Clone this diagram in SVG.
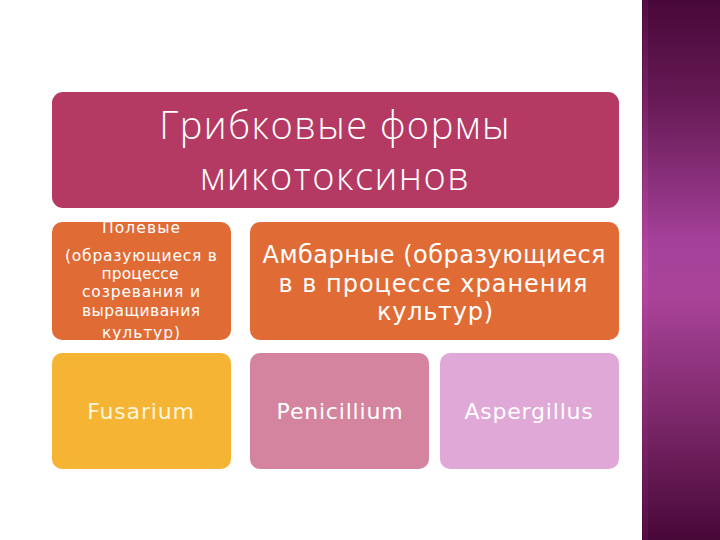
<svg xmlns="http://www.w3.org/2000/svg" width="720" height="540" viewBox="0 0 720 540">
<defs>
<linearGradient id="strip" x1="0" y1="0" x2="0" y2="1">
<stop offset="0" stop-color="#470838"/>
<stop offset="0.2" stop-color="#6a1c58"/>
<stop offset="0.45" stop-color="#a5419a"/>
<stop offset="0.55" stop-color="#a94399"/>
<stop offset="0.8" stop-color="#762463"/>
<stop offset="1" stop-color="#470838"/>
</linearGradient>
<linearGradient id="edge" x1="0" y1="0" x2="0" y2="1">
<stop offset="0" stop-color="#5a1048"/>
<stop offset="0.5" stop-color="#c04aa8"/>
<stop offset="1" stop-color="#5a1048"/>
</linearGradient>
<style>
.box{stroke:none}
.t{fill:#ffffff;text-anchor:middle}
.title{font-family:"Open Sans","Liberation Sans",sans-serif;font-size:38px;font-weight:300;letter-spacing:1.5px}
.small{font-family:"DejaVu Sans","Liberation Sans",sans-serif;font-size:15.5px}
.mid{font-family:"DejaVu Sans","Liberation Sans",sans-serif;font-size:24px}
.big{font-family:"DejaVu Sans","Liberation Sans",sans-serif;font-size:22px;letter-spacing:0.8px}
</style>
</defs>
<rect x="0" y="0" width="720" height="540" fill="#ffffff"/>
<rect x="642" y="0" width="78" height="540" fill="url(#strip)"/>
<rect x="643" y="0" width="5" height="540" fill="url(#edge)" opacity="0.7"/>

<g id="title">
<rect class="box" x="52" y="92" width="567" height="116" rx="11" fill="#b43a63"/>
<text class="t title" x="335" y="139">Грибковые формы</text>
<text class="t title" x="335" y="190">микотоксинов</text>
</g>

<g id="field">
<rect class="box" x="52" y="222" width="179" height="118" rx="10" fill="#e06b35"/>
<text class="t small" x="141" y="233" textLength="78">Полевые</text>
<text class="t small" x="141" y="261" textLength="152">(образующиеся в</text>
<text class="t small" x="140" y="279" textLength="77">процессе</text>
<text class="t small" x="141" y="297" textLength="118">созревания и</text>
<text class="t small" x="141" y="316" textLength="118">выращивания</text>
<text class="t small" x="141" y="338" textLength="78">культур)</text>
</g>

<g id="ambar">
<rect class="box" x="250" y="222" width="369" height="118" rx="10" fill="#e06b35"/>
<text class="t mid" x="434" y="263" textLength="343">Амбарные (образующиеся</text>
<text class="t mid" x="433" y="292" textLength="309">в  в процессе хранения</text>
<text class="t mid" x="435" y="320" textLength="116">культур)</text>
</g>

<g id="fusarium">
<rect class="box" x="52" y="353" width="179" height="116" rx="10" fill="#f6b434"/>
<text class="t big" x="141" y="419" style="fill:#fdf6dc">Fusarium</text>
</g>

<g id="penicillium">
<rect class="box" x="250" y="353" width="179" height="116" rx="10" fill="#d4849e"/>
<text class="t big" x="340" y="419">Penicillium</text>
</g>

<g id="aspergillus">
<rect class="box" x="440" y="353" width="179" height="116" rx="10" fill="#e0a8d6"/>
<text class="t big" x="529" y="419">Aspergillus</text>
</g>

<g id="connectors"></g>
</svg>
